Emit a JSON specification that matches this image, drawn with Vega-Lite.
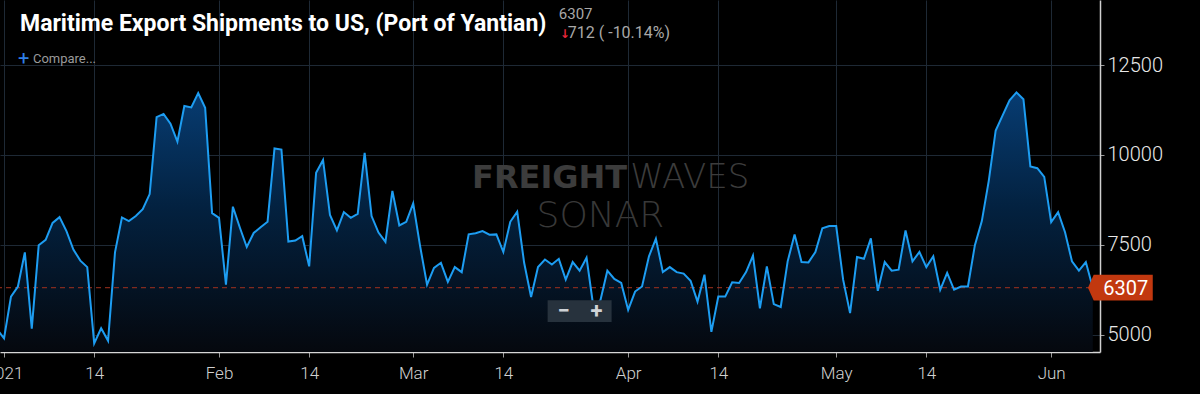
{
  "$schema": "https://vega.github.io/schema/vega-lite/v6.json",
  "width": 1100,
  "height": 352,
  "autosize": {"type": "none"},
  "padding": {"left": 0, "top": 0, "right": 100, "bottom": 42},
  "background": "#000000",
  "config": {"view": {"stroke": null}, "font": "Roboto"},
  "title": {
    "text": "Maritime Export Shipments to US, (Port of Yantian)",
    "anchor": "start",
    "frame": "group",
    "orient": "top",
    "offset": -36,
    "dx": 20,
    "font": "Roboto",
    "fontSize": 23,
    "fontWeight": "bold",
    "color": "#ffffff"
  },
  "datasets": {
    "series": [
      {"date": "2020-12-31", "value": 5150},
      {"date": "2021-01-01", "value": 4900},
      {"date": "2021-01-02", "value": 6060},
      {"date": "2021-01-03", "value": 6340},
      {"date": "2021-01-04", "value": 7290},
      {"date": "2021-01-05", "value": 5170},
      {"date": "2021-01-06", "value": 7490},
      {"date": "2021-01-07", "value": 7640},
      {"date": "2021-01-08", "value": 8110},
      {"date": "2021-01-09", "value": 8270},
      {"date": "2021-01-10", "value": 7880},
      {"date": "2021-01-11", "value": 7370},
      {"date": "2021-01-12", "value": 7060},
      {"date": "2021-01-13", "value": 6880},
      {"date": "2021-01-14", "value": 4760},
      {"date": "2021-01-15", "value": 5180},
      {"date": "2021-01-16", "value": 4830},
      {"date": "2021-01-17", "value": 7290},
      {"date": "2021-01-18", "value": 8260},
      {"date": "2021-01-19", "value": 8160},
      {"date": "2021-01-20", "value": 8300},
      {"date": "2021-01-21", "value": 8490},
      {"date": "2021-01-22", "value": 8910},
      {"date": "2021-01-23", "value": 11050},
      {"date": "2021-01-24", "value": 11140},
      {"date": "2021-01-25", "value": 10870},
      {"date": "2021-01-26", "value": 10370},
      {"date": "2021-01-27", "value": 11360},
      {"date": "2021-01-28", "value": 11320},
      {"date": "2021-01-29", "value": 11720},
      {"date": "2021-01-30", "value": 11310},
      {"date": "2021-01-31", "value": 8380},
      {"date": "2021-02-01", "value": 8250},
      {"date": "2021-02-02", "value": 6390},
      {"date": "2021-02-03", "value": 8560},
      {"date": "2021-02-04", "value": 7980},
      {"date": "2021-02-05", "value": 7440},
      {"date": "2021-02-06", "value": 7830},
      {"date": "2021-02-07", "value": 7990},
      {"date": "2021-02-08", "value": 8140},
      {"date": "2021-02-09", "value": 10180},
      {"date": "2021-02-10", "value": 10150},
      {"date": "2021-02-11", "value": 7590},
      {"date": "2021-02-12", "value": 7620},
      {"date": "2021-02-13", "value": 7740},
      {"date": "2021-02-14", "value": 6900},
      {"date": "2021-02-15", "value": 9500},
      {"date": "2021-02-16", "value": 9860},
      {"date": "2021-02-17", "value": 8330},
      {"date": "2021-02-18", "value": 7900},
      {"date": "2021-02-19", "value": 8410},
      {"date": "2021-02-20", "value": 8250},
      {"date": "2021-02-21", "value": 8360},
      {"date": "2021-02-22", "value": 10060},
      {"date": "2021-02-23", "value": 8300},
      {"date": "2021-02-24", "value": 7840},
      {"date": "2021-02-25", "value": 7580},
      {"date": "2021-02-26", "value": 9000},
      {"date": "2021-02-27", "value": 8040},
      {"date": "2021-02-28", "value": 8140},
      {"date": "2021-03-01", "value": 8650},
      {"date": "2021-03-02", "value": 7460},
      {"date": "2021-03-03", "value": 6390},
      {"date": "2021-03-04", "value": 6860},
      {"date": "2021-03-05", "value": 7000},
      {"date": "2021-03-06", "value": 6470},
      {"date": "2021-03-07", "value": 6880},
      {"date": "2021-03-08", "value": 6740},
      {"date": "2021-03-09", "value": 7790},
      {"date": "2021-03-10", "value": 7820},
      {"date": "2021-03-11", "value": 7880},
      {"date": "2021-03-12", "value": 7780},
      {"date": "2021-03-13", "value": 7790},
      {"date": "2021-03-14", "value": 7300},
      {"date": "2021-03-15", "value": 8140},
      {"date": "2021-03-16", "value": 8420},
      {"date": "2021-03-17", "value": 7000},
      {"date": "2021-03-18", "value": 6050},
      {"date": "2021-03-19", "value": 6880},
      {"date": "2021-03-20", "value": 7090},
      {"date": "2021-03-21", "value": 6950},
      {"date": "2021-03-22", "value": 7110},
      {"date": "2021-03-23", "value": 6530},
      {"date": "2021-03-24", "value": 7020},
      {"date": "2021-03-25", "value": 6780},
      {"date": "2021-03-26", "value": 7140},
      {"date": "2021-03-27", "value": 5750},
      {"date": "2021-03-28", "value": 5960},
      {"date": "2021-03-29", "value": 6780},
      {"date": "2021-03-30", "value": 6550},
      {"date": "2021-03-31", "value": 6440},
      {"date": "2021-04-01", "value": 5690},
      {"date": "2021-04-02", "value": 6200},
      {"date": "2021-04-03", "value": 6340},
      {"date": "2021-04-04", "value": 7180},
      {"date": "2021-04-05", "value": 7670},
      {"date": "2021-04-06", "value": 6740},
      {"date": "2021-04-07", "value": 6880},
      {"date": "2021-04-08", "value": 6740},
      {"date": "2021-04-09", "value": 6700},
      {"date": "2021-04-10", "value": 6500},
      {"date": "2021-04-11", "value": 5920},
      {"date": "2021-04-12", "value": 6670},
      {"date": "2021-04-13", "value": 5080},
      {"date": "2021-04-14", "value": 6060},
      {"date": "2021-04-15", "value": 6060},
      {"date": "2021-04-16", "value": 6460},
      {"date": "2021-04-17", "value": 6440},
      {"date": "2021-04-18", "value": 6740},
      {"date": "2021-04-19", "value": 7200},
      {"date": "2021-04-20", "value": 5730},
      {"date": "2021-04-21", "value": 6900},
      {"date": "2021-04-22", "value": 5850},
      {"date": "2021-04-23", "value": 5770},
      {"date": "2021-04-24", "value": 7040},
      {"date": "2021-04-25", "value": 7790},
      {"date": "2021-04-26", "value": 7020},
      {"date": "2021-04-27", "value": 7010},
      {"date": "2021-04-28", "value": 7300},
      {"date": "2021-04-29", "value": 7960},
      {"date": "2021-04-30", "value": 8020},
      {"date": "2021-05-01", "value": 8020},
      {"date": "2021-05-02", "value": 6530},
      {"date": "2021-05-03", "value": 5600},
      {"date": "2021-05-04", "value": 7160},
      {"date": "2021-05-05", "value": 7110},
      {"date": "2021-05-06", "value": 7680},
      {"date": "2021-05-07", "value": 6220},
      {"date": "2021-05-08", "value": 7020},
      {"date": "2021-05-09", "value": 6780},
      {"date": "2021-05-10", "value": 6810},
      {"date": "2021-05-11", "value": 7900},
      {"date": "2021-05-12", "value": 7040},
      {"date": "2021-05-13", "value": 7300},
      {"date": "2021-05-14", "value": 6880},
      {"date": "2021-05-15", "value": 7180},
      {"date": "2021-05-16", "value": 6250},
      {"date": "2021-05-17", "value": 6720},
      {"date": "2021-05-18", "value": 6250},
      {"date": "2021-05-19", "value": 6340},
      {"date": "2021-05-20", "value": 6340},
      {"date": "2021-05-21", "value": 7490},
      {"date": "2021-05-22", "value": 8160},
      {"date": "2021-05-23", "value": 9280},
      {"date": "2021-05-24", "value": 10680},
      {"date": "2021-05-25", "value": 11100},
      {"date": "2021-05-26", "value": 11520},
      {"date": "2021-05-27", "value": 11740},
      {"date": "2021-05-28", "value": 11550},
      {"date": "2021-05-29", "value": 9680},
      {"date": "2021-05-30", "value": 9630},
      {"date": "2021-05-31", "value": 9390},
      {"date": "2021-06-01", "value": 8130},
      {"date": "2021-06-02", "value": 8410},
      {"date": "2021-06-03", "value": 7850},
      {"date": "2021-06-04", "value": 7040},
      {"date": "2021-06-05", "value": 6780},
      {"date": "2021-06-06", "value": 7019},
      {"date": "2021-06-07", "value": 6307}
    ]
  },
  "layer": [
    {
      "data": {"name": "series"},
      "mark": {
        "type": "area",
        "clip": true,
        "color": {
          "gradient": "linear",
          "x1": 0, "y1": 0, "x2": 0, "y2": 1,
          "stops": [
            {"offset": 0, "color": "#073c72"},
            {"offset": 0.45, "color": "#03213f"},
            {"offset": 1, "color": "#05080e"}
          ]
        }
      },
      "encoding": {
        "x": {"field": "date", "type": "temporal", "title": null},
        "y": {"field": "value", "type": "quantitative", "title": null},
        "y2": {"datum": 4519}
      }
    },
    {
      "data": {"values": [{}]},
      "mark": {"type": "rule", "color": "#a3321f", "strokeDash": [5, 4], "strokeWidth": 1},
      "encoding": {"y": {"datum": 6307, "type": "quantitative", "title": null}}
    },
    {
      "data": {"values": [{}]},
      "mark": {"type": "text", "align": "right", "baseline": "middle", "dx": -1, "font": "DejaVu Sans", "fontSize": 32, "fontWeight": "bold", "color": "#3c3c3c", "text": "FREIGHT"},
      "encoding": {
        "x": {"datum": {"year": 2021, "month": 4, "date": 1, "utc": true}, "type": "temporal", "title": null},
        "y": {"datum": 9360, "type": "quantitative", "title": null}
      }
    },
    {
      "data": {"values": [{}]},
      "mark": {"type": "text", "align": "left", "baseline": "middle", "dx": 2, "font": "DejaVu Sans", "fontSize": 34, "fontWeight": 200, "color": "#3c3c3c", "text": "WAVES"},
      "encoding": {
        "x": {"datum": {"year": 2021, "month": 4, "date": 1, "utc": true}, "type": "temporal", "title": null},
        "y": {"datum": 9360, "type": "quantitative", "title": null}
      }
    },
    {
      "data": {"values": [{}]},
      "mark": {"type": "text", "align": "center", "baseline": "middle", "font": "DejaVu Sans", "fontSize": 36, "fontWeight": 200, "color": "#383838", "text": "SONAR"},
      "encoding": {
        "x": {"datum": {"year": 2021, "month": 3, "date": 28, "utc": true}, "type": "temporal", "title": null},
        "y": {"datum": 8300, "type": "quantitative", "title": null}
      }
    },
    {
      "data": {"name": "series"},
      "mark": {"type": "line", "clip": true, "color": "#1d9df2", "strokeWidth": 2},
      "encoding": {
        "x": {
          "field": "date",
          "type": "temporal",
          "title": null,
          "scale": {
            "type": "utc",
            "domain": [
              {"year": 2020, "month": 12, "date": 31, "hours": 10, "utc": true},
              {"year": 2021, "month": 6, "date": 8, "hours": 1, "utc": true}
            ]
          },
          "axis": {
            "values": [
              {"year": 2021, "month": 1, "date": 1, "utc": true},
              {"year": 2021, "month": 1, "date": 14, "utc": true},
              {"year": 2021, "month": 2, "date": 1, "utc": true},
              {"year": 2021, "month": 2, "date": 14, "utc": true},
              {"year": 2021, "month": 3, "date": 1, "utc": true},
              {"year": 2021, "month": 3, "date": 14, "utc": true},
              {"year": 2021, "month": 4, "date": 1, "utc": true},
              {"year": 2021, "month": 4, "date": 14, "utc": true},
              {"year": 2021, "month": 5, "date": 1, "utc": true},
              {"year": 2021, "month": 5, "date": 14, "utc": true},
              {"year": 2021, "month": 6, "date": 1, "utc": true}
            ],
            "labelExpr": "utcdate(datum.value) == 14 ? '14' : (utcmonth(datum.value) == 0 ? '2021' : utcFormat(datum.value, '%b'))",
            "labelFont": "Roboto",
            "labelFontSize": 17,
            "labelFontWeight": 300,
            "labelColor": "#d0d0d0",
            "labelPadding": 8,
            "labelFlush": false,
            "labelOverlap": false,
            "labelBound": false,
            "tickColor": "#9a9a9a",
            "tickSize": 5,
            "domainColor": "#d6d6d6",
            "domainWidth": 1.5,
            "grid": true,
            "gridColor": "#1e2935",
            "gridWidth": 1
          }
        },
        "y": {
          "field": "value",
          "type": "quantitative",
          "title": null,
          "scale": {"domain": [4519, 14308], "zero": false, "nice": false},
          "axis": {
            "orient": "right",
            "values": [5000, 7500, 10000, 12500],
            "format": "d",
            "labelFont": "Roboto",
            "labelFontSize": 20,
            "labelFontWeight": 300,
            "labelColor": "#e8e8e8",
            "labelPadding": 3,
            "tickSize": 4,
            "tickColor": "#9a9a9a",
            "domainColor": "#cfcfcf",
            "domainWidth": 1.5,
            "grid": true,
            "gridColor": "#1e2935",
            "gridWidth": 1
          }
        }
      }
    },
    {
      "data": {"name": "series"},
      "transform": [{"filter": "utcmonth(toDate(datum.date)) == 5 && utcdate(toDate(datum.date)) == 7"}],
      "mark": {"type": "point", "filled": true, "clip": false, "opacity": 1, "color": "#c2380f", "size": 3600, "shape": "M-0.16,0 L0.03,-0.43 L2,-0.43 L2,0.43 L0.03,0.43 Z"},
      "encoding": {
        "x": {"field": "date", "type": "temporal", "title": null},
        "y": {"field": "value", "type": "quantitative", "title": null}
      }
    },
    {
      "data": {"name": "series"},
      "transform": [{"filter": "utcmonth(toDate(datum.date)) == 5 && utcdate(toDate(datum.date)) == 7"}],
      "mark": {"type": "text", "clip": false, "align": "center", "baseline": "middle", "dx": 33, "dy": 1, "font": "Roboto", "fontSize": 20, "color": "#ffffff"},
      "encoding": {
        "x": {"field": "date", "type": "temporal", "title": null},
        "y": {"field": "value", "type": "quantitative", "title": null},
        "text": {"field": "value", "type": "quantitative", "format": "d"}
      }
    },
    {
      "data": {"values": [{}]},
      "mark": {"type": "point", "filled": true, "opacity": 1, "color": "#27323d", "size": 4096, "shape": "M-1,-0.34 L1,-0.34 L1,0.34 L-1,0.34 Z"},
      "encoding": {
        "x": {"datum": {"year": 2021, "month": 3, "date": 25, "utc": true}, "type": "temporal", "title": null},
        "y": {"datum": 5659, "type": "quantitative", "title": null}
      }
    },
    {
      "data": {"values": [{}]},
      "mark": {"type": "text", "align": "center", "baseline": "middle", "dx": -16, "font": "Roboto", "fontSize": 22, "fontWeight": "bold", "color": "#cfd3d6", "text": "−"},
      "encoding": {
        "x": {"datum": {"year": 2021, "month": 3, "date": 25, "utc": true}, "type": "temporal", "title": null},
        "y": {"datum": 5659, "type": "quantitative", "title": null}
      }
    },
    {
      "data": {"values": [{}]},
      "mark": {"type": "text", "align": "center", "baseline": "middle", "dx": 17, "font": "Roboto", "fontSize": 22, "fontWeight": "bold", "color": "#cfd3d6", "text": "+"},
      "encoding": {
        "x": {"datum": {"year": 2021, "month": 3, "date": 25, "utc": true}, "type": "temporal", "title": null},
        "y": {"datum": 5659, "type": "quantitative", "title": null}
      }
    },
    {
      "data": {"values": [{}]},
      "mark": {"type": "text", "align": "left", "baseline": "alphabetic", "font": "Roboto", "fontSize": 15, "color": "#a8a8a8", "text": "6307"},
      "encoding": {
        "x": {"datum": {"year": 2021, "month": 3, "date": 22, "utc": true}, "type": "temporal", "title": null},
        "y": {"datum": 13790, "type": "quantitative", "title": null}
      }
    },
    {
      "data": {"values": [{}]},
      "mark": {"type": "text", "align": "left", "baseline": "alphabetic", "dx": 1, "font": "DejaVu Sans", "fontSize": 12, "fontWeight": "bold", "color": "#e8263a", "text": "↓"},
      "encoding": {
        "x": {"datum": {"year": 2021, "month": 3, "date": 22, "utc": true}, "type": "temporal", "title": null},
        "y": {"datum": 13250, "type": "quantitative", "title": null}
      }
    },
    {
      "data": {"values": [{}]},
      "mark": {"type": "text", "align": "left", "baseline": "alphabetic", "dx": 9, "font": "Roboto", "fontSize": 16, "color": "#a8a8a8", "text": "712 ( -10.14%)"},
      "encoding": {
        "x": {"datum": {"year": 2021, "month": 3, "date": 22, "utc": true}, "type": "temporal", "title": null},
        "y": {"datum": 13250, "type": "quantitative", "title": null}
      }
    },
    {
      "data": {"values": [{}]},
      "mark": {"type": "text", "align": "left", "baseline": "middle", "font": "Roboto", "fontSize": 20, "color": "#2f7fe6", "text": "+"},
      "encoding": {
        "x": {"datum": {"year": 2021, "month": 1, "date": 3, "utc": true}, "type": "temporal", "title": null},
        "y": {"datum": 12667, "type": "quantitative", "title": null}
      }
    },
    {
      "data": {"values": [{}]},
      "mark": {"type": "text", "align": "left", "baseline": "middle", "dx": 15, "font": "Roboto", "fontSize": 13, "color": "#9a9a9a", "text": "Compare..."},
      "encoding": {
        "x": {"datum": {"year": 2021, "month": 1, "date": 3, "utc": true}, "type": "temporal", "title": null},
        "y": {"datum": 12667, "type": "quantitative", "title": null}
      }
    }
  ]
}
